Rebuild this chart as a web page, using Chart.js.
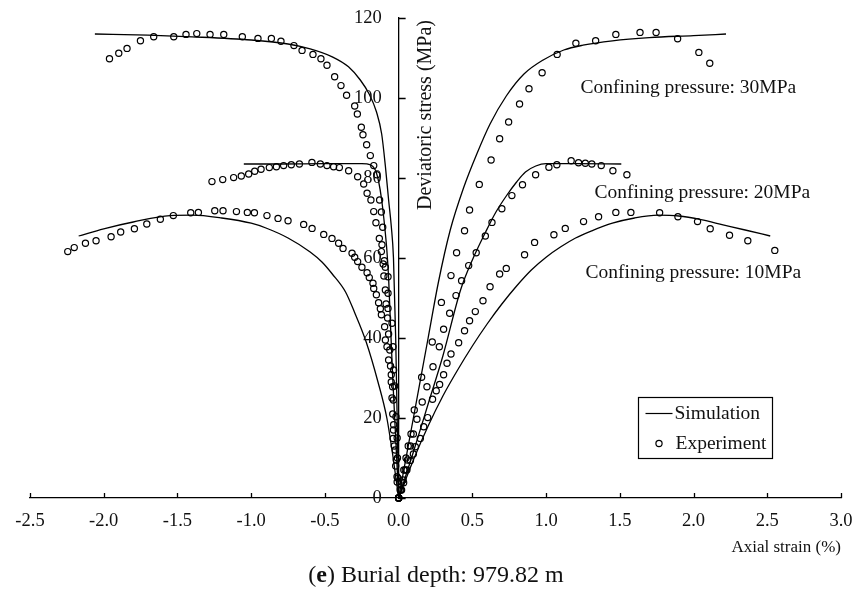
<!DOCTYPE html>
<html>
<head>
<meta charset="utf-8">
<title>Burial depth: 979.82 m</title>
<script src="https://cdn.jsdelivr.net/npm/chart.js@4.4.0/dist/chart.umd.min.js"></script>
<style>
	body { margin: 0; background: #fff; }
	#grafico { display: block; }
</style>
</head>
<body>
<canvas id="grafico" width="858" height="592"></canvas>
<script>
// axial strain (%) on the right, lateral strain (%) on the left, stress in MPa
var xTicks = [-2.5, -2.0, -1.5, -1.0, -0.5, 0.0, 0.5, 1.0, 1.5, 2.0, 2.5, 3.0];
var yTicks = [0, 20, 40, 60, 80, 100, 120];

// simulation curves [strain, stress]
var sim30Right = [[0,0],[0.1,20],[0.2,40],[0.27,54],[0.35,67],[0.44,77.5],[0.53,86],[0.62,93.5],[0.73,100.5],[0.85,106],[0.98,109.5],[1.12,112],[1.25,113.2],[1.45,114.3],[1.7,115.1],[2.0,115.6],[2.22,116]];
var sim20Right = [[0,0],[0.1,11.5],[0.2,23.5],[0.3,35.5],[0.42,52],[0.5,59.5],[0.59,66.5],[0.66,71.5],[0.73,75.5],[0.8,79],[0.86,81.5],[0.93,83],[1.0,83.6],[1.2,83.6],[1.51,83.5]];
var sim10Right = [[0,0],[0.1,9.5],[0.2,18],[0.3,25.5],[0.4,32],[0.5,38],[0.6,43.5],[0.7,48.5],[0.8,53],[0.9,57],[1.0,60.2],[1.1,62.8],[1.2,65],[1.31,66.8],[1.45,68.7],[1.6,70],[1.76,70.7],[1.9,70.5],[2.05,69.6],[2.2,68.3],[2.35,67],[2.52,65.5]];
var sim30Left = [[0,0],[-0.01,20],[-0.02,40],[-0.035,60],[-0.05,68],[-0.068,74.5],[-0.09,83],[-0.115,91],[-0.15,96.5],[-0.2,101],[-0.26,104.5],[-0.34,107.8],[-0.45,110.3],[-0.6,112.3],[-0.75,113.5],[-1.0,114.5],[-1.4,115.3],[-1.7,115.7],[-2.06,116]];
var sim20Left = [[0,0],[-0.02,15],[-0.04,30],[-0.055,43],[-0.068,55],[-0.08,62],[-0.095,68],[-0.115,74.5],[-0.135,79],[-0.158,82],[-0.19,83.3],[-0.25,83.6],[-0.5,83.6],[-0.8,83.5],[-1.05,83.5]];
var sim10Left = [[0,0],[-0.045,12],[-0.08,20],[-0.14,29],[-0.22,39],[-0.3,46.5],[-0.36,51.5],[-0.45,56],[-0.52,59],[-0.6,61.5],[-0.75,65],[-0.9,67.5],[-1.0,68.7],[-1.2,70],[-1.4,70.7],[-1.55,70.6],[-1.8,69],[-2.0,67.3],[-2.17,65.5]];

// experiment points [strain, stress]
var exp30Right = [[0,0],[0.01,2],[0.02,4],[0.035,7],[0.05,10],[0.065,13],[0.084,16],[0.106,22],[0.156,30.2],[0.228,39],[0.29,48.9],[0.355,55.6],[0.393,61.3],[0.447,66.8],[0.481,72],[0.547,78.4],[0.627,84.5],[0.685,89.8],[0.746,94],[0.82,98.5],[0.884,102.3],[0.973,106.3],[1.075,110.9],[1.202,113.7],[1.336,114.3],[1.473,115.9],[1.637,116.4],[1.746,116.4],[1.892,114.8],[2.036,111.4],[2.11,108.7]];
var exp20Right = [[0,0],[0.015,2],[0.03,4.5],[0.045,7],[0.06,9.5],[0.08,13],[0.1,16],[0.124,19.7],[0.16,24],[0.192,27.8],[0.233,32.8],[0.276,37.8],[0.305,42.2],[0.346,46.2],[0.389,50.6],[0.427,54.3],[0.475,58.1],[0.526,61.3],[0.588,65.5],[0.633,68.9],[0.7,72.3],[0.768,75.6],[0.84,78.3],[0.929,80.8],[1.019,82.7],[1.073,83.3],[1.17,84.3],[1.22,83.8],[1.266,83.7],[1.31,83.5],[1.374,83.1],[1.453,81.8],[1.548,80.8]];
var exp10Right = [[0,0],[0.02,2],[0.034,3.8],[0.056,7],[0.08,9.4],[0.1,11],[0.113,12.8],[0.147,14.9],[0.17,17.8],[0.197,20.1],[0.23,24.7],[0.255,26.8],[0.278,28.4],[0.305,30.8],[0.328,33.7],[0.355,36],[0.407,38.8],[0.447,41.8],[0.481,44.3],[0.52,46.6],[0.572,49.3],[0.62,52.8],[0.685,56],[0.73,57.4],[0.854,60.8],[0.922,63.9],[1.053,65.8],[1.13,67.4],[1.254,69.1],[1.356,70.3],[1.473,71.4],[1.575,71.4],[1.77,71.3],[1.894,70.3],[2.027,69.1],[2.113,67.3],[2.244,65.7],[2.368,64.3],[2.551,61.9]];
var exp30Left = [[0,0],[-0.005,5],[-0.008,10],[-0.01,15],[-0.018,20.3],[-0.027,28],[-0.034,32],[-0.038,37.8],[-0.045,43.7],[-0.072,47.4],[-0.072,51.2],[-0.072,55.3],[-0.09,57.7],[-0.097,59.3],[-0.113,63.3],[-0.108,67.7],[-0.117,71.5],[-0.129,74.5],[-0.149,80.8],[-0.169,83.1],[-0.192,85.6],[-0.217,88.3],[-0.242,90.8],[-0.253,92.7],[-0.28,96],[-0.298,98],[-0.353,100.7],[-0.391,103.1],[-0.434,105.3],[-0.486,108.2],[-0.527,109.8],[-0.581,110.9],[-0.655,111.9],[-0.71,113.1],[-0.798,114.2],[-0.863,114.9],[-0.954,114.9],[-1.06,115.3],[-1.186,115.9],[-1.279,115.9],[-1.369,116.1],[-1.442,115.9],[-1.525,115.3],[-1.661,115.3],[-1.751,114.3],[-1.842,112.4],[-1.898,111.2],[-1.961,109.8]];
var exp20Left = [[0,0],[-0.01,4],[-0.02,8],[-0.03,13],[-0.035,17],[-0.04,21],[-0.045,25],[-0.05,29],[-0.055,33],[-0.06,37],[-0.068,41],[-0.075,45],[-0.085,48.5],[-0.09,52],[-0.1,55.5],[-0.105,58.5],[-0.117,61.6],[-0.131,64.9],[-0.154,68.8],[-0.169,71.6],[-0.188,74.5],[-0.214,76.2],[-0.237,78.5],[-0.278,80.3],[-0.339,81.8],[-0.402,82.6],[-0.441,82.8],[-0.486,83.1],[-0.531,83.5],[-0.588,83.9],[-0.673,83.5],[-0.728,83.3],[-0.78,83.1],[-0.829,82.8],[-0.877,82.6],[-0.933,82.2],[-0.976,81.7],[-1.017,81],[-1.067,80.5],[-1.119,80.1],[-1.193,79.6],[-1.266,79.1]];
var exp10Left = [[0,0],[-0.011,5.3],[-0.016,9.5],[-0.023,12],[-0.038,14.9],[-0.034,18.3],[-0.036,24.5],[-0.041,27.8],[-0.05,30.8],[-0.068,34.5],[-0.079,37.8],[-0.09,39.5],[-0.095,42.8],[-0.117,45.8],[-0.124,47.3],[-0.136,48.8],[-0.151,50.8],[-0.169,52.4],[-0.174,53.7],[-0.199,55.1],[-0.214,56.3],[-0.249,57.7],[-0.278,59.1],[-0.298,60.2],[-0.316,61.2],[-0.377,62.4],[-0.407,63.7],[-0.452,64.9],[-0.508,65.9],[-0.587,67.4],[-0.644,68.4],[-0.75,69.3],[-0.818,69.9],[-0.893,70.6],[-0.978,71.3],[-1.026,71.4],[-1.1,71.6],[-1.191,71.8],[-1.247,71.8],[-1.358,71.4],[-1.41,71.3],[-1.528,70.6],[-1.616,69.7],[-1.708,68.5],[-1.792,67.3],[-1.885,66.5],[-1.95,65.3],[-2.052,64.3],[-2.124,63.7],[-2.2,62.6],[-2.244,61.6]];

// text labels, anchored at [strain, stress] (left edge, middle)
var notes = [
	{text: "Confining pressure: 30MPa", at: [1.234, 102.5]},
	{text: "Confining pressure: 20MPa", at: [1.329, 76.25]},
	{text: "Confining pressure: 10MPa", at: [1.268, 56.25]}
];
var legendAt = [1.62, 25.25];

var serif = "'Liberation Serif', 'Times New Roman', serif";
// wanted plot box in the page
var target = {left: 30, right: 841, top: 18, bottom: 498};

function toXY(arr) {
	return arr.map(function (p) { return {x: p[0], y: p[1]}; });
}

function simSet(arr) {
	return {
		data: toXY(arr),
		showLine: true,
		borderColor: "#000",
		borderWidth: 1.3,
		pointRadius: 0,
		cubicInterpolationMode: "monotone",
		order: 2
	};
}

function expSet(arr) {
	return {
		data: toXY(arr),
		showLine: false,
		pointStyle: "circle",
		pointRadius: 3.1,
		borderWidth: 1.2,
		borderColor: "#000",
		backgroundColor: "rgba(255,255,255,0)",
		clip: false,
		order: 1
	};
}

// axis tick marks, y labels + title, notes, legend box and caption
var decor = {
	id: "decor",
	afterDraw: function (chart) {
		var ctx = chart.ctx;
		var xs = chart.scales.x, ys = chart.scales.y;
		var x0 = xs.getPixelForValue(0), y0 = ys.getPixelForValue(0);
		ctx.save();
		ctx.strokeStyle = "#000";
		ctx.lineWidth = 1.3;
		ctx.beginPath();
		xTicks.forEach(function (v) {
			var px = Math.round(xs.getPixelForValue(v)) + 0.5;
			ctx.moveTo(px, y0);
			ctx.lineTo(px, y0 - 5);
		});
		yTicks.forEach(function (v) {
			var py = Math.round(ys.getPixelForValue(v)) + 0.5;
			ctx.moveTo(x0, py);
			ctx.lineTo(x0 + 7, py);
		});
		ctx.stroke();

		// y tick labels, left of the middle axis
		ctx.fillStyle = "#111";
		ctx.font = "18.5px " + serif;
		ctx.textAlign = "right";
		ctx.textBaseline = "middle";
		yTicks.forEach(function (v) {
			ctx.fillText(String(v), x0 - 17, ys.getPixelForValue(v));
		});

		// y axis title, reading upwards, right of the axis
		ctx.font = "20px " + serif;
		ctx.save();
		ctx.translate(x0 + 27, ys.top + 2);
		ctx.rotate(-Math.PI / 2);
		ctx.textAlign = "right";
		ctx.textBaseline = "middle";
		ctx.fillText("Deviatoric stress (MPa)", 0, 0);
		ctx.restore();

		// confining pressure labels
		ctx.font = "19.5px " + serif;
		ctx.textAlign = "left";
		ctx.textBaseline = "middle";
		notes.forEach(function (n) {
			ctx.fillText(n.text, xs.getPixelForValue(n.at[0]), ys.getPixelForValue(n.at[1]));
		});

		// legend
		var lx = Math.round(xs.getPixelForValue(legendAt[0])) + 0.5;
		var ly = Math.round(ys.getPixelForValue(legendAt[1])) + 0.5;
		ctx.lineWidth = 1.2;
		ctx.strokeRect(lx, ly, 134, 61);
		ctx.beginPath();
		ctx.moveTo(lx + 7, ly + 16);
		ctx.lineTo(lx + 34, ly + 16);
		ctx.stroke();
		ctx.beginPath();
		ctx.arc(lx + 20.5, ly + 46, 3.1, 0, Math.PI * 2);
		ctx.stroke();
		ctx.fillText("Simulation", lx + 36, ly + 16);
		ctx.fillText("Experiment", lx + 37, ly + 46);

		// caption
		var cy = 576;
		var normal = "24px " + serif, bold = "bold 24px " + serif;
		var parts = [["(", normal], ["e", bold], [") Burial depth: 979.82 m", normal]];
		var total = 0;
		parts.forEach(function (p) { ctx.font = p[1]; total += ctx.measureText(p[0]).width; });
		var cx = 436 - total / 2;
		ctx.textAlign = "left";
		parts.forEach(function (p) {
			ctx.font = p[1];
			ctx.fillText(p[0], cx, cy);
			cx += ctx.measureText(p[0]).width;
		});
		ctx.restore();
	}
};

var grafico = new Chart(document.getElementById("grafico"), {
	type: "scatter",
	data: {
		datasets: [
			simSet(sim30Right), simSet(sim20Right), simSet(sim10Right),
			simSet(sim30Left), simSet(sim20Left), simSet(sim10Left),
			expSet(exp30Right), expSet(exp20Right), expSet(exp10Right),
			expSet(exp30Left), expSet(exp20Left), expSet(exp10Left)
		]
	},
	options: {
		responsive: false,
		animation: false,
		devicePixelRatio: 1,
		layout: {padding: {left: 30, right: 17, top: 18, bottom: 34}},
		plugins: {
			legend: {display: false},
			tooltip: {enabled: false}
		},
		scales: {
			x: {
				type: "linear",
				position: "bottom",
				min: -2.5,
				max: 3.0,
				afterBuildTicks: function (s) { s.ticks = xTicks.map(function (v) { return {value: v}; }); },
				afterFit: function (s) { s.height = 60; },
				// tick marks are drawn upward by the plugin; tickLength only spaces the labels
				grid: {display: false, drawTicks: true, tickLength: 12},
				border: {display: true, color: "#000", width: 1.3},
				ticks: {
					padding: 0,
					color: "#111",
					font: {family: serif, size: 18.5},
					maxRotation: 0,
					autoSkip: false,
					callback: function (v) { return Number(v).toFixed(1); }
				},
				title: {
					display: true,
					text: "Axial strain (%)",
					align: "end",
					color: "#111",
					font: {family: serif, size: 17},
					padding: {top: 0, bottom: 0}
				}
			},
			y: {
				type: "linear",
				position: {x: 0},
				min: 0,
				max: 120,
				afterBuildTicks: function (s) { s.ticks = yTicks.map(function (v) { return {value: v}; }); },
				grid: {display: false, drawTicks: false},
				border: {display: true, color: "#000", width: 1.3},
				ticks: {display: false}
			}
		}
	},
	plugins: [decor]
});

// nudge the padding once so the plot box lands where the figure has it
var ca = grafico.chartArea;
var pad = grafico.options.layout.padding;
grafico.options.layout.padding = {
	left: pad.left + (target.left - ca.left),
	right: pad.right + (ca.right - target.right),
	top: pad.top + (target.top - ca.top),
	bottom: pad.bottom + (ca.bottom - target.bottom)
};
grafico.update();
</script>
</body>
</html>
